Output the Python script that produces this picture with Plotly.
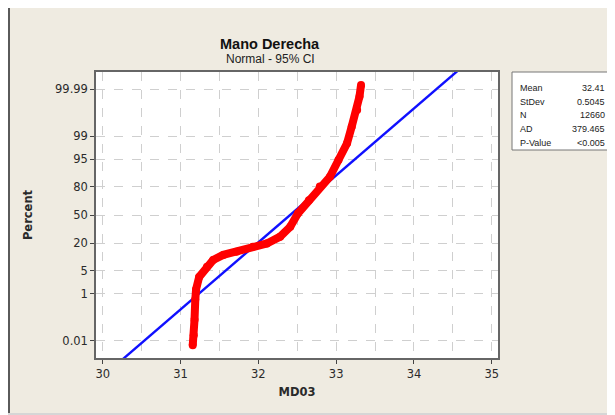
from statistics import NormalDist
import plotly.graph_objects as go

# --- Data ---
md03 = [31.157, 31.17, 31.18, 31.19, 31.20, 31.24, 31.34, 31.42, 31.55, 31.72,
        31.93, 32.11, 32.28, 32.41, 32.51, 32.65, 32.79, 32.92, 33.03, 33.14,
        33.20, 33.27, 33.30, 33.32]
percent = [0.0059, 0.019, 0.097, 0.62, 1.39, 3.36, 6.3, 9.2, 11.9, 13.8,
           17.4, 20.0, 26.1, 36.3, 52.0, 67.0, 80.0, 87.1, 94.8, 98.3,
           99.55, 99.906, 99.977, 99.994]

stat_names = ["Mean", "StDev", "N", "AD", "P-Value"]
stat_values = ["32.41", "0.5045", "12660", "379.465", "<0.005"]
mean, stdev = 32.41, 0.5045

pct_ticks = [0.01, 1, 5, 20, 50, 80, 95, 99, 99.99]
pct_labels = ["0.01", "1", "5", "20", "50", "80", "95", "99", "99.99"]

nd = NormalDist()
z = [nd.inv_cdf(p / 100) for p in percent]
z_ticks = [nd.inv_cdf(p / 100) for p in pct_ticks]

x_range = [29.914, 35.08]
z_range = [-4.23, 4.23]

# fitted normal line across the plot
fit_x = x_range
fit_z = [(x - mean) / stdev for x in fit_x]

fig = go.Figure()
fig.add_trace(go.Scatter(x=fit_x, y=fit_z, mode="lines",
                         line=dict(color="#1010FF", width=2.4),
                         hoverinfo="skip"))
fig.add_trace(go.Scatter(x=md03, y=z, mode="lines+markers",
                         line=dict(color="#FF0000", width=8),
                         marker=dict(color="#FF0000", size=8),
                         customdata=percent,
                         hovertemplate="%{x}<br>%{customdata}%<extra></extra>"))

# --- Layout (figure sits 8px in from the page corner) ---
OFF = 8
W, H = 615 - OFF, 415 - OFF
L, R, T, B = 96 - OFF, 498 - OFF, 72 - OFF, 358 - OFF


def px(xp):
    # page pixel -> paper fraction
    return (xp - OFF - L) / (R - L)


def py(yp):
    return (B - (yp - OFF)) / (B - T)


font = "Liberation Sans, Arial, sans-serif"
tick_font = "DejaVu Sans, Verdana, sans-serif"
bg = "#EFEBE1"

fig.update_layout(
    width=W, height=H,
    margin=dict(l=L, r=W - R, t=T, b=H - B),
    paper_bgcolor=bg, plot_bgcolor="white",
    showlegend=False,
    font=dict(family=font, size=11, color="#333333"),
    xaxis=dict(range=x_range, tickvals=[30, 31, 32, 33, 34, 35],
               ticks="outside", ticklen=4, tickcolor="#444",
               showline=True, linecolor="#666", linewidth=1.5, mirror=True,
               showgrid=True, gridcolor="#CFCFCF", griddash="dash",
               minor=dict(dtick=0.5, tick0=30, showgrid=True, gridcolor="#CFCFCF",
                          griddash="dash", ticklen=0),
               zeroline=False,
               tickfont=dict(family=tick_font, size=11.5, color="#2A2A2A"),
               title=dict(text="<b>MD03</b>",
                          font=dict(family=tick_font, size=11.5, color="#2A2A2A"),
                          standoff=8)),
    yaxis=dict(range=z_range, tickvals=z_ticks, ticktext=pct_labels,
               ticks="outside", ticklen=4, tickcolor="#444",
               showline=True, linecolor="#666", linewidth=1.5, mirror=True,
               showgrid=True, gridcolor="#CFCFCF", griddash="dash",
               zeroline=False,
               tickfont=dict(family=tick_font, size=11.5, color="#2A2A2A"),
               title=dict(text="<b>Percent</b>",
                          font=dict(family=tick_font, size=11.5, color="#2A2A2A"),
                          standoff=20)),
)

# window frame: dark left edge and grey bottom strip
fig.add_shape(type="rect", xref="paper", yref="paper", layer="below",
              x0=px(8), x1=px(10), y0=py(415), y1=py(5),
              fillcolor="#5A5A5A", line_width=0)
fig.add_shape(type="rect", xref="paper", yref="paper", layer="below",
              x0=px(0), x1=px(615), y0=py(415), y1=py(413),
              fillcolor="#D6D6D6", line_width=0)

# titles
fig.add_annotation(text="<b>Mano Derecha</b>", xref="paper", yref="paper",
                   x=px(270), y=py(34), showarrow=False,
                   font=dict(size=14.5, color="#111"))
fig.add_annotation(text="Normal - 95% CI", xref="paper", yref="paper",
                   x=px(270), y=py(50), showarrow=False,
                   font=dict(size=12, color="#222"))

# stats box
fig.add_shape(type="rect", xref="paper", yref="paper",
              x0=px(512), x1=px(612), y0=py(150), y1=py(72),
              fillcolor="white", line=dict(color="#777", width=1))
for i, (name, val) in enumerate(zip(stat_names, stat_values)):
    yy = py(81 + i * 13.7)
    fig.add_annotation(text=name, xref="paper", yref="paper", x=px(518), y=yy,
                       xanchor="left", showarrow=False,
                       font=dict(size=9, color="#222"))
    fig.add_annotation(text=val, xref="paper", yref="paper", x=px(607), y=yy,
                       xanchor="right", showarrow=False,
                       font=dict(size=9, color="#222"))

fig.write_html("out.html")
